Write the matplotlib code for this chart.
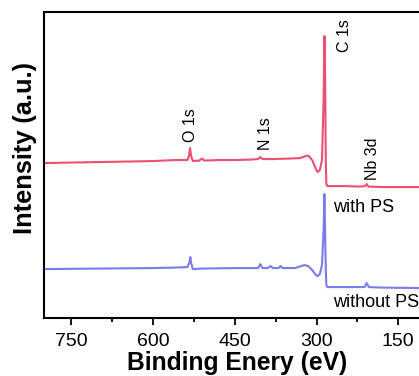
import matplotlib
matplotlib.use('Agg')
import matplotlib.pyplot as plt
from matplotlib.ticker import MultipleLocator

plt.rcParams['font.family'] = ['Liberation Sans', 'DejaVu Sans']

# binding energy (eV) and intensity (a.u.)
be_ps = [800, 750, 700, 650, 600, 560, 545, 537, 534, 532, 530, 527, 515, 510, 506,
         480, 450, 420, 407, 403, 399, 380, 350, 330, 320, 315, 308, 302, 298, 294,
         290, 287, 285.5, 284.5, 283, 282, 280, 250, 220, 211, 208, 205, 180, 150,
         100, 90]
int_ps = [155, 155.5, 156, 156.5, 157, 158, 158, 158, 162, 170, 162, 157, 157.5, 159.5, 157.5,
          158, 158, 158.5, 159, 161, 159, 159, 159.5, 160, 162, 162.5, 158, 150, 146, 148,
          158, 218, 282, 258, 158, 134, 132, 132, 131.5, 132, 134, 131.5, 131, 131,
          131, 131]

be_nops = [800, 700, 600, 560, 537, 533, 531.5, 530, 527, 510, 450, 407, 403, 399,
           390, 384, 380, 370, 366, 362, 340, 322, 315, 308, 301, 298, 294, 290, 287,
           285.5, 284.3, 283, 282, 280, 230, 212, 208, 204, 180, 100, 90]
int_nops = [49, 49.5, 50, 50.5, 51, 56, 61, 55, 49, 49.5, 50, 50, 54, 50,
            50, 52, 50, 50, 52, 50, 50, 53, 52, 48, 43, 42, 44, 53, 88,
            124, 88, 48, 33, 31, 31, 31, 35, 31, 30.5, 30, 30]

peaks = ['O 1s', 'N 1s', 'C 1s', 'Nb 3d']
peak_x = [532, 394, 249, 198]
peak_y = [176, 168, 266, 138]

fig = plt.figure(figsize=(4.19, 3.76), dpi=100)
ax = fig.add_axes([0.105, 0.154, 0.9236, 0.814])

ax.plot(be_ps, int_ps, color='#ec4f72', lw=1.5)
ax.plot(be_nops, int_nops, color='#7b7bee', lw=1.5)

for name, px, py in zip(peaks, peak_x, peak_y):
    ax.text(px, py, name, rotation=90, ha='center', va='bottom', fontsize=11.5)
ax.text(269, 111, 'with PS', ha='left', va='center', fontsize=13)
ax.text(269, 16, 'without PS', ha='left', va='center', fontsize=13)

ax.set_xlim(800, 90)
ax.set_ylim(0, 306)
ax.xaxis.set_major_locator(MultipleLocator(150))
ax.xaxis.set_minor_locator(MultipleLocator(75))
ax.tick_params(axis='x', which='major', direction='out', length=5, width=1.3, labelsize=14, pad=6)
ax.tick_params(axis='x', which='minor', direction='out', length=3, width=1.3)
ax.set_yticks([])
for s in ax.spines.values():
    s.set_linewidth(1.5)

ax.set_xlabel('Binding Enery (eV)', fontsize=17.7, fontweight='bold', labelpad=0.5)
ax.set_ylabel('Intensity (a.u.)', fontsize=18.3, fontweight='bold')
ax.yaxis.set_label_coords(-0.018, 0.557)

fig.savefig('out.png', dpi=100)
